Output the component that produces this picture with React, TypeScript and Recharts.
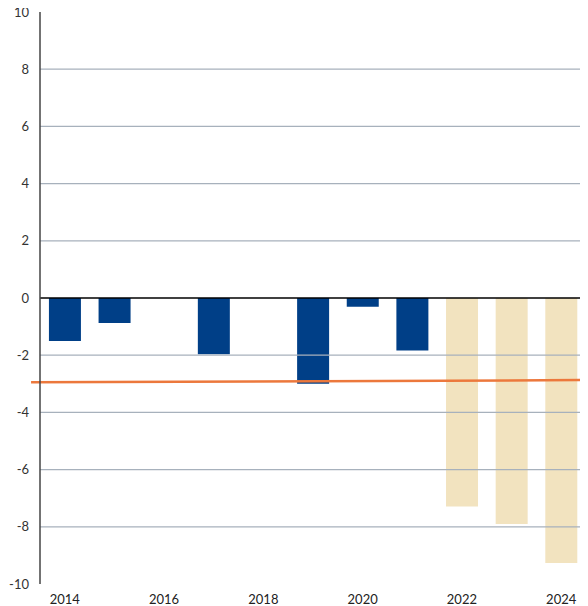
import React from 'react';
import { ComposedChart, Bar, XAxis, YAxis, ReferenceLine } from 'recharts';

const years = ['2014', '2015', '2016', '2017', '2018', '2019', '2020', '2021', '2022', '2023', '2024'];
const actual = [-1.5, -0.87, null, -1.97, null, -3.0, -0.31, -1.84, null, null, null];
const forecast = [null, null, null, null, null, null, null, null, -7.29, -7.9, -9.27];
const yTicks = [-10, -8, -6, -4, -2, 0, 2, 4, 6, 8, 10];
const gridValues = [8, 6, 4, 2, -2, -4, -6, -8];
const limitLine = [
  { x: 2013.32, y: -2.95 },
  { x: 2024.53, y: -2.87 },
];

const data = years.map((y, i) => ({
  year: y,
  yearNum: Number(y),
  actual: actual[i],
  forecast: forecast[i],
}));

const font = 'Lato, "DejaVu Sans", sans-serif';

export default function App() {
  return (
    <div style={{ marginTop: -8 }}>
      <ComposedChart
        width={580}
        height={606}
        data={data}
        margin={{ top: 12, right: 2, bottom: 0, left: 0 }}
        barCategoryGap="18%"
      >
        <XAxis
          dataKey="year"
          xAxisId="cat"
          interval={1}
          axisLine={false}
          tickLine={false}
          tickSize={0}
          tickMargin={11}
          height={22}
          tick={{ fill: '#222', fontSize: 13, fontFamily: font }}
        />
        <XAxis
          dataKey="yearNum"
          xAxisId="num"
          type="number"
          domain={[2013.5, 2024.5]}
          allowDataOverflow
          hide
        />
        <YAxis
          domain={[-10, 10]}
          ticks={yTicks}
          interval={0}
          width={32}
          axisLine={{ stroke: '#444', strokeWidth: 1.5 }}
          tickLine={false}
          tickSize={0}
          tickMargin={11}
          tick={{ fill: '#333', fontSize: 13, fontFamily: font }}
        />
        {gridValues.map((v) => (
          <ReferenceLine key={v} y={v} xAxisId="cat" stroke="#a7b1bc" strokeWidth={1.2} />
        ))}
        <Bar dataKey="actual" xAxisId="cat" stackId="s" fill="#003f87" isAnimationActive={false} />
        <Bar dataKey="forecast" xAxisId="cat" stackId="s" fill="#f2e3bf" isAnimationActive={false} />
        <ReferenceLine y={0} xAxisId="cat" stroke="#000" strokeWidth={1.3} />
        <ReferenceLine
          xAxisId="num"
          segment={limitLine}
          stroke="#ec783c"
          strokeWidth={2.5}
          ifOverflow="visible"
        />
      </ComposedChart>
    </div>
  );
}
